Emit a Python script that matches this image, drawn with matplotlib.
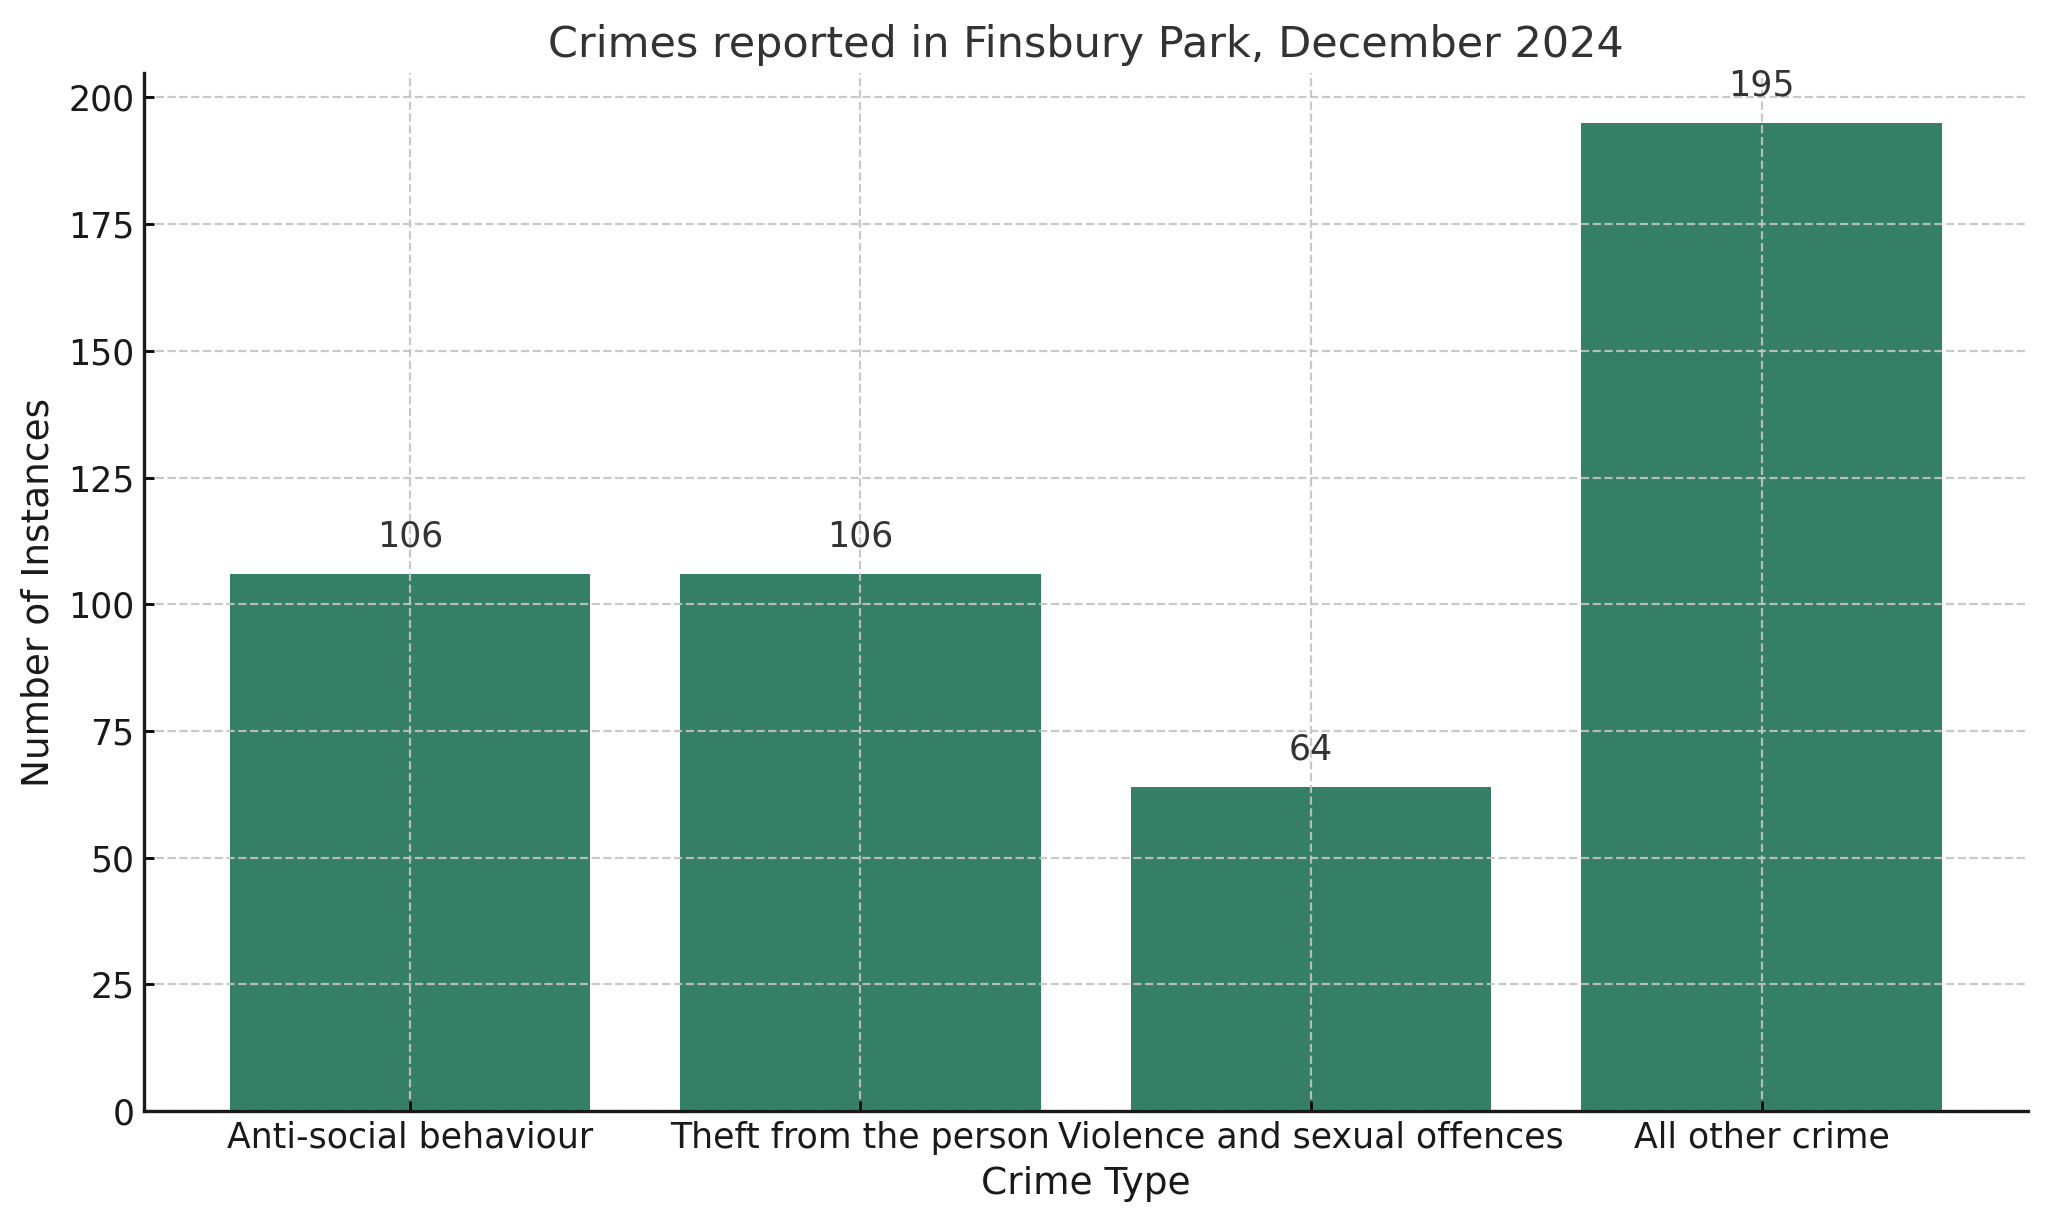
import matplotlib
matplotlib.use("Agg")
import matplotlib.pyplot as plt

# data
crime_types = ["Anti-social behaviour", "Theft from the person",
               "Violence and sexual offences", "All other crime"]
instances = [106, 106, 64, 195]

BAR_COLOR = "#347F65"
TEXT_DARK = "#333333"


def render(output_path="out.png"):
    plt.rcParams["font.family"] = ["DejaVu Sans"]
    fig, ax = plt.subplots(figsize=(10.24, 6.11), dpi=200)
    fig.subplots_adjust(left=0.0703, right=0.990, top=0.940, bottom=0.0908)

    bars = ax.bar(crime_types, instances, color=BAR_COLOR, width=0.8)

    for bar, val in zip(bars, instances):
        ax.text(bar.get_x() + bar.get_width() / 2, val + 4, str(val),
                ha="center", va="bottom", fontsize=12.5, color=TEXT_DARK)

    ax.grid(True, linestyle="--", color="#c4c4c4", linewidth=0.8, alpha=0.9)
    for side in ("top", "right"):
        ax.spines[side].set_visible(False)
    for side in ("left", "bottom"):
        ax.spines[side].set_linewidth(1.2)
        ax.spines[side].set_color("#1a1a1a")

    ax.tick_params(axis="both", direction="in", labelsize=12.5,
                   labelcolor="#1a1a1a", width=1.0)
    ax.set_xlabel("Crime Type", fontsize=13.5, color="#1a1a1a")
    ax.set_ylabel("Number of Instances", fontsize=13.5, color="#1a1a1a")
    ax.set_title("Crimes reported in Finsbury Park, December 2024",
                 fontsize=15.5, color=TEXT_DARK)

    fig.savefig(output_path, dpi=200)
    plt.close(fig)


if __name__ == "__main__":
    render()
